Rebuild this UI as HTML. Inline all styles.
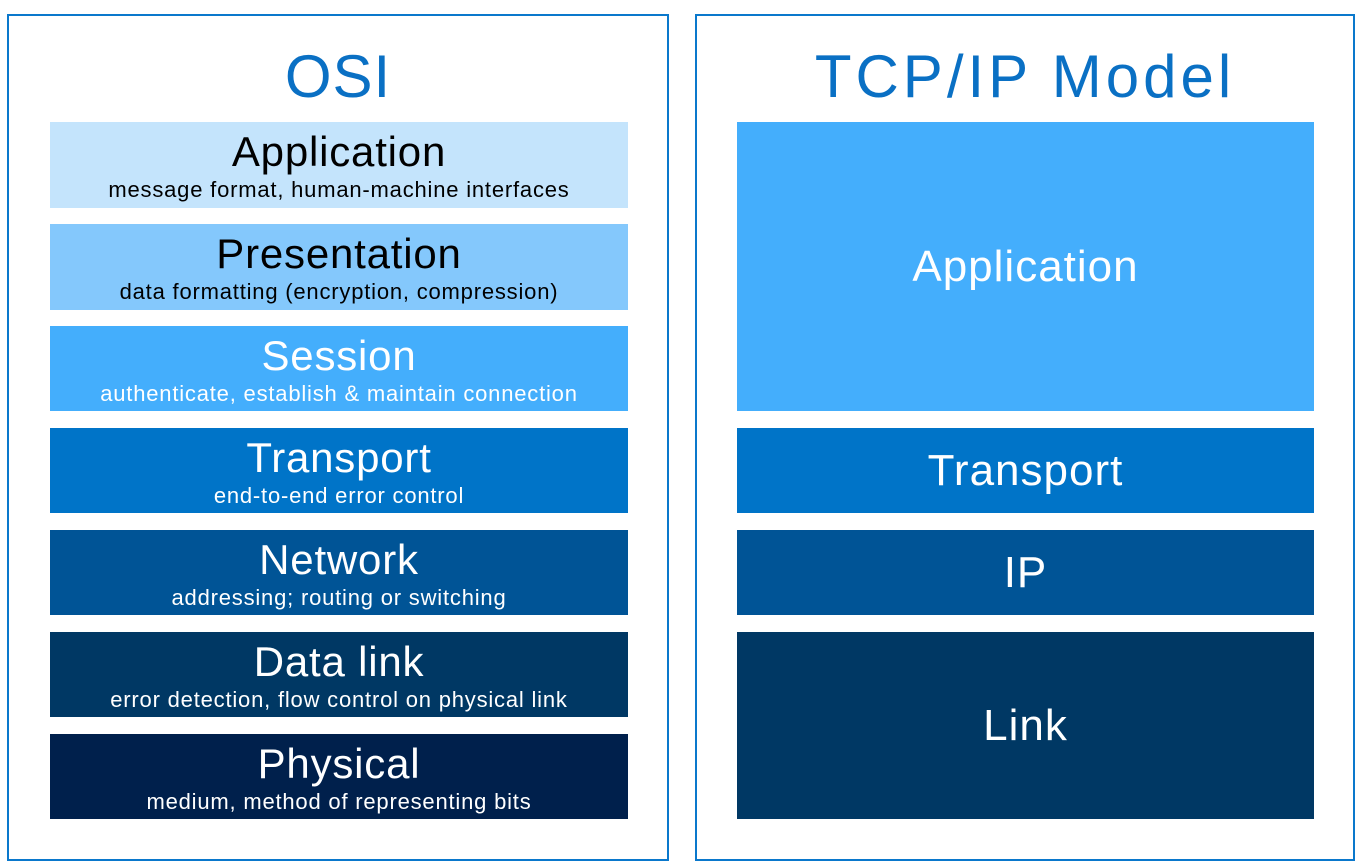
<!DOCTYPE html>
<html><head><meta charset="utf-8"><style>
body{margin:0;background:#fff;width:1364px;height:862px;position:relative;overflow:hidden;font-family:"Liberation Sans",sans-serif}
.panel{position:absolute;border:2px solid #0a78cc;box-sizing:border-box}
.h{position:absolute;left:0;right:0;text-align:center;color:#0a70c4;font-size:60px}
.b{position:absolute;box-sizing:border-box;text-align:center;color:#fff}
.t{position:absolute;left:0;right:0;font-size:42px;letter-spacing:0.8px;line-height:42px;top:9px}
.s{position:absolute;left:0;right:0;font-size:22px;letter-spacing:0.8px;line-height:24px;top:56px}
.c{position:absolute;left:0;right:0;top:50%;transform:translateY(-50%);font-size:44px;letter-spacing:1px}
</style></head><body>
<div class="panel" style="left:7px;top:14px;width:662px;height:847px"><div class="h" style="top:26px;letter-spacing:1px">OSI</div></div>
<div class="panel" style="left:695px;top:14px;width:660px;height:847px"><div class="h" style="top:26px;letter-spacing:4px">TCP/IP Model</div></div>

<div class="b" style="left:50px;top:122px;width:578px;height:86px;background:#c4e4fc;color:#000"><div class="t">Application</div><div class="s">message format, human-machine interfaces</div></div>
<div class="b" style="left:50px;top:224px;width:578px;height:86px;background:#84c8fc;color:#000"><div class="t">Presentation</div><div class="s">data formatting (encryption, compression)</div></div>
<div class="b" style="left:50px;top:326px;width:578px;height:85px;background:#44aefc"><div class="t">Session</div><div class="s">authenticate, establish &amp; maintain connection</div></div>
<div class="b" style="left:50px;top:428px;width:578px;height:85px;background:#0074c8"><div class="t">Transport</div><div class="s">end-to-end error control</div></div>
<div class="b" style="left:50px;top:530px;width:578px;height:85px;background:#005496"><div class="t">Network</div><div class="s">addressing; routing or switching</div></div>
<div class="b" style="left:50px;top:632px;width:578px;height:85px;background:#003864"><div class="t">Data link</div><div class="s">error detection, flow control on physical link</div></div>
<div class="b" style="left:50px;top:734px;width:578px;height:85px;background:#00204c"><div class="t">Physical</div><div class="s">medium, method of representing bits</div></div>

<div class="b" style="left:737px;top:122px;width:577px;height:289px;background:#44aefc"><div class="c">Application</div></div>
<div class="b" style="left:737px;top:428px;width:577px;height:85px;background:#0074c8"><div class="c">Transport</div></div>
<div class="b" style="left:737px;top:530px;width:577px;height:85px;background:#005496"><div class="c">IP</div></div>
<div class="b" style="left:737px;top:632px;width:577px;height:187px;background:#003864"><div class="c">Link</div></div>
</body></html>
